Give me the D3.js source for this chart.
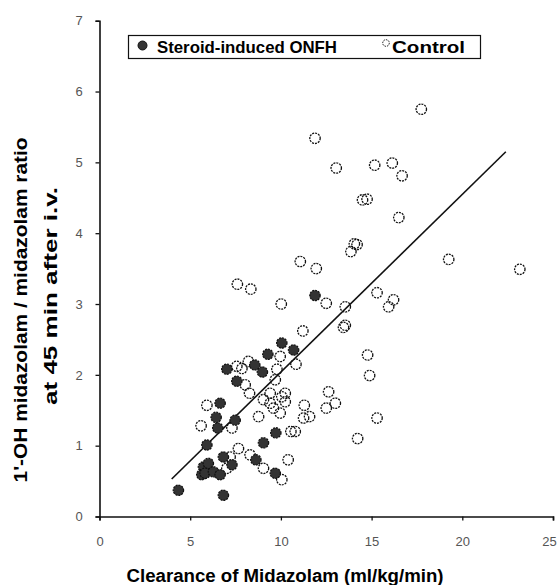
<!DOCTYPE html>
<html>
<head>
<meta charset="utf-8">
<script src="https://cdn.jsdelivr.net/npm/d3@7"></script>
<style>
  body { margin: 0; background: #fff; }
  text { font-family: Arial, "Liberation Sans", sans-serif; }
</style>
</head>
<body>
<div id="chart"></div>
<script>
// Steroid-induced ONFH (filled circles)
let onfhX = [11.88, 10.05, 10.7, 9.28, 8.56, 8.98, 7.57, 7.02, 6.65, 6.43, 6.52, 7.48, 5.92, 9.72,
  9.04, 6.83, 8.62, 9.69, 5.73, 6.0, 5.64, 5.82, 6.28, 6.65, 7.3, 4.35, 6.83];
let onfhY = [3.12, 2.45, 2.35, 2.29, 2.14, 2.04, 1.91, 2.08, 1.6, 1.4, 1.25, 1.36, 1.01, 1.18,
  1.04, 0.84, 0.8, 0.61, 0.7, 0.75, 0.59, 0.61, 0.63, 0.59, 0.73, 0.37, 0.3];

// Control (open circles)
let ctrlX = [17.74, 11.88, 13.05, 15.17, 16.14, 16.68, 14.5, 14.75, 16.5, 14.2, 13.86, 14.05,
  19.25, 23.17, 11.07, 11.95, 7.6, 8.34, 10.02, 12.5, 13.55, 15.3, 16.21, 15.94, 13.45, 13.55,
  11.21, 14.78, 14.89, 15.3, 9.96, 10.83, 9.78, 8.21, 7.57, 7.85, 8.03, 8.27, 9.69, 9.41,
  10.24, 9.04, 9.41, 9.59, 10.05, 10.24, 9.96, 8.77, 11.29, 12.63, 13.0, 12.5, 11.25, 11.58,
  10.79, 10.55, 14.23, 5.92, 7.3, 5.6, 7.66, 7.2, 8.3, 9.04, 10.05, 7.02, 10.4];
let ctrlY = [5.75, 5.34, 4.92, 4.96, 4.99, 4.81, 4.47, 4.48, 4.22, 3.84, 3.74, 3.85,
  3.63, 3.49, 3.6, 3.5, 3.28, 3.21, 3.0, 3.01, 2.96, 3.16, 3.06, 2.96, 2.67, 2.7,
  2.62, 2.28, 1.99, 1.39, 2.26, 2.15, 2.08, 2.19, 2.12, 2.09, 1.86, 1.74, 1.93, 1.74,
  1.74, 1.65, 1.6, 1.53, 1.69, 1.62, 1.46, 1.41, 1.57, 1.76, 1.6, 1.53, 1.39, 1.41,
  1.2, 1.2, 1.1, 1.57, 1.25, 1.28, 0.96, 0.84, 0.87, 0.68, 0.52, 0.68, 0.8];

// regression line
let fitX = [3.98, 22.4];
let fitY = [0.53, 5.15];

let xTicks = [0, 5, 10, 15, 20, 25];
let yTicks = [0, 1, 2, 3, 4, 5, 6, 7];
let legendLabels = ["Steroid-induced ONFH", "Control"];

let width = 558;
let height = 585;

let x = d3.scaleLinear().domain([0, 25]).range([99.5, 553]);
let y = d3.scaleLinear().domain([0, 7]).range([516.5, 20.7]);

let svg = d3.select("#chart")
  .append("svg")
  .attr("width", width)
  .attr("height", height);

// axes
let xAxis = svg.append("g")
  .attr("transform", "translate(0," + y(0) + ")")
  .call(d3.axisBottom(x).tickValues(xTicks).tickFormat(d3.format("d"))
    .tickSize(4).tickPadding(16.5));

let yAxis = svg.append("g")
  .attr("transform", "translate(" + x(0) + ",0)")
  .call(d3.axisLeft(y).tickValues(yTicks).tickFormat(d3.format("d")).tickSize(4));

[xAxis, yAxis].forEach(function (g) {
  g.select(".domain").attr("stroke", "#111").attr("stroke-width", 1.6);
  g.selectAll(".tick line").attr("stroke", "#111").attr("stroke-width", 1.3);
  g.selectAll(".tick text")
    .attr("fill", "#555")
    .style("font-size", "13px")
    .style("font-family", "Arial, 'Liberation Sans', sans-serif");
});
yAxis.selectAll(".tick text").attr("x", -20.5).attr("text-anchor", "middle");
// last x label sits a little left of its tick, as in the original
xAxis.selectAll(".tick text")
  .filter(function (d) { return d === 25; })
  .attr("x", -4);

// fit line
let line = d3.line()
  .x(function (d) { return x(d[0]); })
  .y(function (d) { return y(d[1]); });

svg.append("path")
  .datum(d3.zip(fitX, fitY))
  .attr("d", line)
  .attr("fill", "none")
  .attr("stroke", "#111")
  .attr("stroke-width", 1.6);

// control points first, filled group on top
svg.append("g")
  .selectAll("circle")
  .data(d3.zip(ctrlX, ctrlY))
  .enter()
  .append("circle")
  .attr("cx", function (d) { return x(d[0]); })
  .attr("cy", function (d) { return y(d[1]); })
  .attr("r", 5.2)
  .attr("fill", "none")
  .attr("stroke", "#111")
  .attr("stroke-width", 1.3)
  .attr("stroke-dasharray", "2 1");

svg.append("g")
  .selectAll("circle")
  .data(d3.zip(onfhX, onfhY))
  .enter()
  .append("circle")
  .attr("cx", function (d) { return x(d[0]); })
  .attr("cy", function (d) { return y(d[1]); })
  .attr("r", 5.2)
  .attr("fill", "#333")
  .attr("stroke", "#111")
  .attr("stroke-width", 1.2)
  .attr("stroke-dasharray", "2 1");

// legend
let legend = svg.append("g");
legend.append("rect")
  .attr("x", 128.5).attr("y", 35.5)
  .attr("width", 352).attr("height", 23)
  .attr("fill", "#fff")
  .attr("stroke", "#111")
  .attr("stroke-width", 1.2);
legend.append("circle")
  .attr("cx", 142.5).attr("cy", 45.5).attr("r", 4.5)
  .attr("fill", "#333").attr("stroke", "#111");
legend.append("text")
  .attr("x", 157).attr("y", 53)
  .attr("textLength", 180).attr("lengthAdjust", "spacingAndGlyphs")
  .style("font-size", "17px").style("font-weight", "bold")
  .text(legendLabels[0]);
legend.append("circle")
  .attr("cx", 386).attr("cy", 43).attr("r", 3.3)
  .attr("fill", "none").attr("stroke", "#111").attr("stroke-width", 1)
  .attr("stroke-dasharray", "1.5 1");
legend.append("text")
  .attr("x", 392).attr("y", 53)
  .attr("textLength", 73).attr("lengthAdjust", "spacingAndGlyphs")
  .style("font-size", "16px").style("font-weight", "bold")
  .text(legendLabels[1]);

// axis titles
svg.append("text")
  .attr("x", 285).attr("y", 582)
  .attr("text-anchor", "middle")
  .attr("textLength", 317).attr("lengthAdjust", "spacingAndGlyphs")
  .style("font-size", "18px").style("font-weight", "bold")
  .text("Clearance of Midazolam (ml/kg/min)");

svg.append("text")
  .attr("transform", "translate(27,310) rotate(-90)")
  .attr("text-anchor", "middle")
  .attr("textLength", 345).attr("lengthAdjust", "spacingAndGlyphs")
  .style("font-size", "18px").style("font-weight", "bold")
  .text("1'-OH midazolam / midazolam ratio");

svg.append("text")
  .attr("transform", "translate(57,296) rotate(-90)")
  .attr("text-anchor", "middle")
  .attr("textLength", 218).attr("lengthAdjust", "spacingAndGlyphs")
  .style("font-size", "18px").style("font-weight", "bold")
  .text("at 45 min after i.v.");
</script>
</body>
</html>
